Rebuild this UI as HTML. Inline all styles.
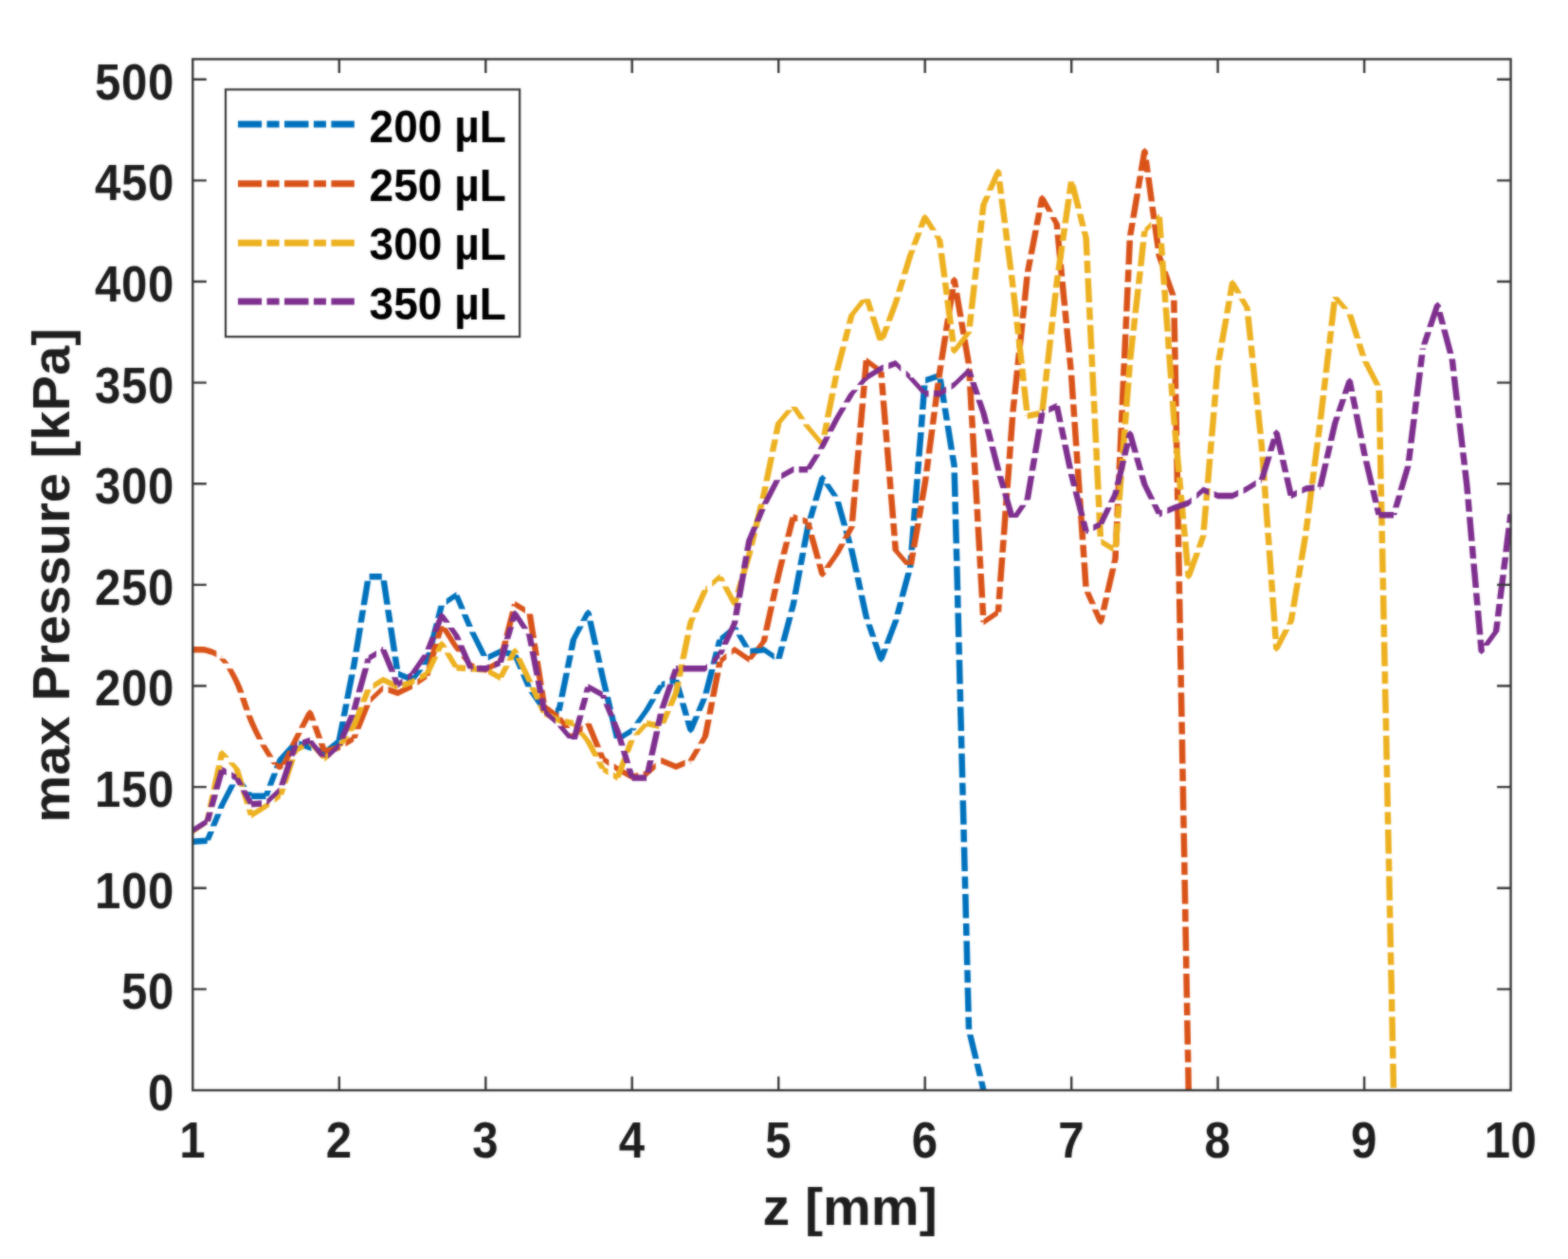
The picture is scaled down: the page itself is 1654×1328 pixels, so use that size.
<!DOCTYPE html>
<html lang="en">
<head>
<meta charset="utf-8">
<title>max Pressure [kPa] vs z [mm]</title>
<style>
html,body{margin:0;padding:0;background:#fff;}
body{width:1654px;height:1328px;overflow:hidden;}
svg{display:block;}
</style>
</head>
<body>
<svg width="1654" height="1328" viewBox="0 0 1654 1328">
<defs><clipPath id="ax"><rect x="202.3" y="61.4" width="1392.3" height="1089.6"/></clipPath></defs>
<filter id="soft" x="0" y="0" width="1654" height="1328" filterUnits="userSpaceOnUse" color-interpolation-filters="sRGB"><feGaussianBlur stdDeviation="0.85" result="b"/><feComposite in="b" in2="SourceGraphic" operator="arithmetic" k1="0" k2="0.6" k3="0.4" k4="0"/></filter>
<g filter="url(#soft)">
<rect width="1654" height="1328" fill="#fff"/>
<g clip-path="url(#ax)">
<path fill="#0072bd" d="M203.3 884.4L218.7 883.4L218.7 889.9L203.3 890.9ZM219.5 877.0L226.0 877.0L222.0 886.6L215.5 886.6ZM227.2 858.5L233.7 858.5L228.2 871.6L221.7 871.6ZM230.9 849.3L237.4 849.3L235.9 853.1L229.4 853.1ZM242.2 827.6L248.7 827.6L237.4 849.3L230.9 849.3ZM246.4 819.5L252.9 819.5L251.5 822.2L245.0 822.2ZM249.6 816.5L252.9 819.5L246.4 819.5ZM246.4 819.5L252.9 819.5L260.8 829.9L254.3 829.9ZM258.4 835.2L264.9 835.2L268.3 839.7L261.8 839.7ZM265.1 836.5L280.5 836.5L280.5 843.0L265.1 843.0ZM279.5 834.1L286.0 834.1L283.8 839.7L277.3 839.7ZM286.7 815.6L293.2 815.6L288.1 828.8L281.6 828.8ZM292.7 800.3L299.2 800.3L295.3 810.2L288.8 810.2ZM306.8 784.7L313.3 784.7L299.2 800.3L292.7 800.3ZM315.3 781.3L326.9 785.3L326.9 791.8L315.3 787.8ZM326.9 785.3L328.4 785.8L328.4 792.3L326.9 791.8ZM333.8 787.7L342.3 790.6L342.3 797.1L333.8 794.2ZM342.3 790.6L357.8 777.8L357.8 784.3L342.3 797.1ZM358.5 761.0L365.0 761.0L361.0 781.1L354.5 781.1ZM362.1 742.4L368.6 742.4L366.0 755.6L359.5 755.6ZM368.1 711.6L374.6 711.6L369.6 737.1L363.1 737.1ZM370.0 702.2L376.5 702.2L375.7 706.2L369.2 706.2ZM371.5 693.0L378.0 693.0L376.5 702.2L370.0 702.2ZM376.6 662.2L383.1 662.2L378.9 687.7L372.4 687.7ZM379.6 643.6L386.1 643.6L383.9 656.8L377.4 656.8ZM384.7 612.8L391.2 612.8L387.0 638.3L380.5 638.3ZM389.6 605.1L402.8 605.1L402.8 611.6L389.6 611.6ZM401.5 612.3L408.0 612.3L411.8 637.8L405.3 637.8ZM406.1 643.2L412.6 643.2L414.6 656.4L408.1 656.4ZM408.9 661.7L415.4 661.7L419.3 687.2L412.8 687.2ZM413.6 692.6L420.1 692.6L422.1 705.8L415.6 705.8ZM420.0 707.6L435.0 713.8L435.0 720.3L420.0 714.1ZM440.2 706.6L446.7 706.6L438.3 717.1L431.8 717.1ZM447.2 697.9L453.7 697.9L451.0 701.2L444.5 701.2ZM449.8 688.1L456.3 688.1L453.7 697.9L447.2 697.9ZM457.7 657.2L464.2 657.2L457.7 682.7L451.2 682.7ZM462.5 638.7L469.0 638.7L465.6 651.8L459.1 651.8ZM470.8 631.6L481.4 624.3L481.4 630.8L470.8 638.1ZM478.1 627.5L484.6 627.5L491.0 642.5L484.5 642.5ZM486.8 647.9L493.3 647.9L498.9 661.0L492.4 661.0ZM494.9 666.4L501.4 666.4L514.1 691.9L507.6 691.9ZM514.8 690.2L527.7 684.0L527.7 690.5L514.8 696.7ZM527.7 684.0L528.0 684.0L528.0 690.5L527.7 690.5ZM533.3 685.2L543.2 687.2L543.2 693.7L533.3 691.7ZM539.9 690.4L546.4 690.4L553.1 706.1L546.6 706.1ZM548.9 711.5L555.4 711.5L561.0 724.6L554.5 724.6ZM557.6 730.0L564.1 730.0L577.3 749.1L570.8 749.1ZM574.0 745.8L580.5 746.3L580.5 752.8L574.0 752.3ZM585.9 746.6L589.5 746.9L589.5 753.4L585.9 753.1ZM588.2 740.6L594.7 740.6L592.7 750.1L586.2 750.1ZM594.5 709.8L601.0 709.8L595.8 735.3L589.3 735.3ZM598.3 691.2L604.8 691.2L602.1 704.4L595.6 704.4ZM601.7 674.4L608.2 674.4L605.9 685.9L599.4 685.9ZM609.2 660.4L615.7 660.4L608.2 674.4L601.7 674.4ZM617.1 645.7L623.6 645.7L618.6 655.0L612.1 655.0ZM620.4 642.7L623.6 645.7L617.1 645.7ZM617.1 645.7L623.6 645.7L624.5 649.5L618.0 649.5ZM619.2 654.8L625.7 654.8L631.4 680.3L624.9 680.3ZM626.1 685.7L632.6 685.7L635.5 698.9L629.0 698.9ZM630.2 704.2L636.7 704.2L639.1 715.0L632.6 715.0ZM632.6 715.0L639.1 715.0L642.6 729.7L636.1 729.7ZM637.4 735.1L643.9 735.1L647.0 748.3L640.5 748.3ZM641.8 753.6L648.3 753.6L654.3 779.1L647.8 779.1ZM655.8 773.9L666.7 767.2L666.7 773.7L655.8 780.4ZM665.1 768.2L671.6 768.2L670.0 770.4L663.5 770.4ZM678.9 749.1L685.4 749.1L675.5 762.8L669.0 762.8ZM685.8 737.3L692.3 737.3L685.4 749.1L678.9 749.1ZM694.4 722.4L700.9 722.4L695.4 731.9L688.9 731.9ZM697.6 719.2L701.3 717.9L701.3 724.4L697.6 725.7ZM706.6 716.1L713.1 713.8L713.1 720.3L706.6 722.6ZM709.8 717.1L716.3 717.1L721.9 736.2L715.4 736.2ZM716.9 741.5L723.4 741.5L727.2 754.7L720.7 754.7ZM722.3 760.1L728.8 760.1L731.8 770.4L725.3 770.4ZM725.3 770.4L731.8 770.4L728.5 773.4ZM731.7 755.3L738.2 755.3L731.8 770.4L725.3 770.4ZM739.6 736.7L746.1 736.7L740.5 749.9L734.0 749.9ZM748.0 705.9L754.5 705.9L747.9 731.4L741.4 731.4ZM752.8 687.3L759.3 687.3L755.9 700.5L749.4 700.5ZM756.2 674.4L762.7 674.4L760.7 682.0L754.2 682.0ZM759.4 671.2L774.9 658.4L774.9 664.9L759.4 677.7ZM771.6 661.6L778.1 661.6L779.7 664.2L773.2 664.2ZM776.4 669.6L782.9 669.6L790.8 682.7L784.3 682.7ZM791.2 683.9L805.8 681.9L805.8 688.4L791.2 690.4ZM805.8 681.9L816.7 689.4L816.7 695.9L805.8 688.4ZM821.7 681.8L828.2 681.8L824.7 694.9L818.2 694.9ZM830.0 650.9L836.5 650.9L829.7 676.4L823.2 676.4ZM833.4 638.2L839.9 638.2L837.9 645.5L831.4 645.5ZM834.5 632.4L841.0 632.4L839.9 638.2L833.4 638.2ZM840.3 601.5L846.8 601.5L842.0 627.0L835.5 627.0ZM843.8 583.0L850.3 583.0L847.8 596.1L841.3 596.1ZM848.9 556.1L855.4 556.1L851.3 577.6L844.8 577.6ZM850.0 552.1L856.5 552.1L855.4 556.1L848.9 556.1ZM855.5 533.6L862.0 533.6L858.1 546.7L851.6 546.7ZM864.3 503.8L870.8 503.8L863.6 528.2L857.1 528.2ZM867.6 500.8L870.8 503.8L864.3 503.8ZM864.3 503.8L870.8 503.8L871.6 505.0L865.1 505.0ZM868.8 510.3L875.3 510.3L884.4 523.5L877.9 523.5ZM880.5 528.9L887.0 528.9L894.2 554.4L887.7 554.4ZM889.3 559.7L895.8 559.7L899.5 572.9L893.0 572.9ZM894.5 578.3L901.0 578.3L901.7 580.6L895.2 580.6ZM895.2 580.6L901.7 580.6L906.8 603.8L900.3 603.8ZM901.5 609.1L908.0 609.1L910.8 622.3L904.3 622.3ZM905.5 627.7L912.0 627.7L917.1 651.0L910.6 651.0ZM910.6 651.0L917.1 651.0L917.9 653.2L911.4 653.2ZM913.3 658.5L919.8 658.5L924.3 671.7L917.8 671.7ZM919.6 677.1L926.1 677.1L932.6 695.8L926.1 695.8ZM926.1 695.8L932.6 695.8L929.3 698.8ZM930.5 684.3L937.0 684.3L932.6 695.8L926.1 695.8ZM941.5 655.2L948.0 655.2L939.0 679.0L932.5 679.0ZM942.0 653.5L948.5 653.5L948.0 655.2L941.5 655.2ZM947.0 634.9L953.5 634.9L950.0 648.1L943.5 648.1ZM955.3 604.1L961.8 604.1L954.9 629.6L948.4 629.6ZM957.0 597.7L963.5 597.7L963.2 598.7L956.7 598.7ZM957.9 585.5L964.4 585.5L963.5 597.7L957.0 597.7ZM960.4 554.7L966.9 554.7L964.9 580.2L958.4 580.2ZM961.8 536.1L968.3 536.1L967.3 549.3L960.8 549.3ZM964.3 505.3L970.8 505.3L968.8 530.8L962.3 530.8ZM965.7 486.7L972.2 486.7L971.2 499.9L964.7 499.9ZM968.2 455.9L974.7 455.9L972.6 481.4L966.1 481.4ZM969.6 437.3L976.1 437.3L975.1 450.5L968.6 450.5ZM972.0 406.5L978.5 406.5L976.5 432.0L970.0 432.0ZM976.1 398.1L989.2 393.6L989.2 400.1L976.1 404.6ZM988.5 399.6L995.0 399.6L999.1 425.1L992.6 425.1ZM993.5 430.5L1000.0 430.5L1002.1 443.6L995.6 443.6ZM996.5 449.0L1003.0 449.0L1007.1 474.5L1000.6 474.5ZM1001.5 479.9L1008.0 479.9L1009.8 491.0L1003.3 491.0ZM1003.3 491.0L1009.8 491.0L1009.9 493.0L1003.4 493.0ZM1003.5 498.4L1010.0 498.4L1010.7 523.9L1004.2 523.9ZM1004.3 529.3L1010.8 529.3L1011.2 542.4L1004.7 542.4ZM1004.8 547.8L1011.3 547.8L1012.0 573.3L1005.5 573.3ZM1005.6 578.7L1012.1 578.7L1012.5 591.8L1006.0 591.8ZM1006.1 597.2L1012.6 597.2L1013.3 622.7L1006.8 622.7ZM1006.9 628.1L1013.4 628.1L1013.7 641.2L1007.2 641.2ZM1007.4 646.6L1013.9 646.6L1014.5 672.1L1008.0 672.1ZM1008.2 677.5L1014.7 677.5L1015.0 690.6L1008.5 690.6ZM1008.7 696.0L1015.2 696.0L1015.8 721.5L1009.3 721.5ZM1009.5 726.9L1016.0 726.9L1016.3 740.0L1009.8 740.0ZM1009.9 745.4L1016.4 745.4L1017.1 770.9L1010.6 770.9ZM1010.7 776.3L1017.2 776.3L1017.6 789.4L1011.1 789.4ZM1011.2 794.8L1017.7 794.8L1018.4 820.3L1011.9 820.3ZM1012.0 825.7L1018.5 825.7L1018.9 838.8L1012.4 838.8ZM1012.5 844.2L1019.0 844.2L1019.7 869.7L1013.2 869.7ZM1013.3 875.1L1019.8 875.1L1020.1 888.2L1013.6 888.2ZM1013.8 893.6L1020.3 893.6L1020.9 919.1L1014.4 919.1ZM1014.6 924.5L1021.1 924.5L1021.4 937.6L1014.9 937.6ZM1015.1 943.0L1021.6 943.0L1022.2 968.5L1015.7 968.5ZM1015.9 973.9L1022.4 973.9L1022.7 987.0L1016.2 987.0ZM1016.4 992.4L1022.9 992.4L1023.5 1017.9L1017.0 1017.9ZM1017.2 1023.3L1023.7 1023.3L1024.0 1036.4L1017.5 1036.4ZM1017.6 1041.8L1024.1 1041.8L1024.8 1067.3L1018.3 1067.3ZM1018.4 1072.7L1024.9 1072.7L1025.3 1085.8L1018.8 1085.8ZM1020.0 1091.2L1026.5 1091.2L1032.7 1116.7L1026.2 1116.7ZM1027.5 1122.1L1034.0 1122.1L1037.2 1135.2L1030.7 1135.2ZM1032.0 1140.6L1038.5 1140.6L1040.7 1150.0L1034.2 1150.0Z"/>
<path fill="#d95319" d="M203.3 681.9L205.9 681.9L205.9 688.4L203.3 688.4ZM205.9 681.9L208.4 681.9L208.4 688.4L205.9 688.4ZM208.4 681.9L211.0 681.9L211.0 688.4L208.4 688.4ZM211.0 681.9L213.6 682.0L213.6 688.5L211.0 688.4ZM213.6 682.0L216.2 682.3L216.2 688.8L213.6 688.5ZM216.2 682.3L218.7 682.9L218.7 689.4L216.2 688.8ZM218.7 682.9L221.3 683.7L221.3 690.2L218.7 689.4ZM221.3 683.7L223.9 684.6L223.9 691.1L221.3 690.2ZM223.9 684.6L226.5 685.7L226.5 692.2L223.9 691.1ZM226.5 685.7L228.4 686.8L228.4 693.3L226.5 692.2ZM233.8 691.1L234.2 691.5L234.2 698.0L233.8 697.6ZM230.9 694.7L237.4 694.7L240.0 697.7L233.5 697.7ZM233.5 697.7L240.0 697.7L241.7 699.8L235.2 699.8ZM238.9 705.2L245.4 705.2L247.7 709.2L241.2 709.2ZM241.2 709.2L247.7 709.2L250.3 714.0L243.8 714.0ZM243.8 714.0L250.3 714.0L252.9 719.2L246.4 719.2ZM246.4 719.2L252.9 719.2L255.5 725.3L249.0 725.3ZM249.0 725.3L255.5 725.3L257.5 730.7L251.0 730.7ZM252.9 736.1L259.4 736.1L260.6 739.7L254.1 739.7ZM254.1 739.7L260.6 739.7L263.2 747.2L256.7 747.2ZM256.7 747.2L263.2 747.2L263.9 749.2L257.4 749.2ZM259.4 754.6L265.9 754.6L268.3 760.8L261.8 760.8ZM261.8 760.8L268.3 760.8L270.9 766.6L264.4 766.6ZM264.4 766.6L270.9 766.6L273.5 772.1L267.0 772.1ZM267.0 772.1L273.5 772.1L276.1 777.2L269.6 777.2ZM269.6 777.2L276.1 777.2L277.6 780.1L271.1 780.1ZM274.1 785.5L280.6 785.5L281.2 786.5L274.7 786.5ZM274.7 786.5L281.2 786.5L283.8 790.7L277.3 790.7ZM277.3 790.7L283.8 790.7L286.4 794.9L279.9 794.9ZM279.9 794.9L286.4 794.9L288.6 798.6L282.1 798.6ZM285.5 804.0L292.0 804.0L294.1 806.6L287.6 806.6ZM290.8 803.3L293.4 805.3L293.4 811.8L290.8 809.8ZM293.4 805.3L296.0 805.5L296.0 812.0L293.4 811.8ZM296.0 805.5L298.6 803.6L298.6 810.1L296.0 812.0ZM297.9 803.0L304.4 803.0L301.8 806.8L295.3 806.8ZM300.5 797.9L307.0 797.9L304.4 803.0L297.9 803.0ZM303.0 792.2L309.5 792.2L307.0 797.9L300.5 797.9ZM303.3 791.7L309.8 791.7L309.5 792.2L303.0 792.2ZM308.2 781.1L314.7 781.1L312.1 786.3L305.6 786.3ZM312.3 773.1L318.8 773.1L314.7 781.1L308.2 781.1ZM323.6 751.2L330.1 751.2L321.6 767.8L315.1 767.8ZM326.9 748.2L330.1 751.2L323.6 751.2ZM323.6 751.2L330.1 751.2L333.5 760.2L327.0 760.2ZM329.0 765.5L335.5 765.5L340.3 778.7L333.8 778.7ZM335.8 784.1L342.3 784.1L345.6 792.8L339.1 792.8ZM342.3 789.5L357.8 785.3L357.8 791.8L342.3 796.0ZM357.8 785.3L359.1 784.5L359.1 791.0L357.8 791.8ZM364.5 781.1L373.2 775.7L373.2 782.2L364.5 787.6ZM371.7 774.5L378.2 774.5L376.5 778.9L370.0 778.9ZM384.2 743.7L390.7 743.7L380.4 769.2L373.9 769.2ZM390.9 735.1L404.1 722.4L404.1 728.9L390.9 741.6ZM409.5 724.2L419.6 727.7L419.6 734.2L409.5 730.7ZM419.6 727.7L435.0 720.3L435.0 726.8L419.6 734.2ZM440.3 716.6L450.5 709.6L450.5 716.1L440.3 723.1ZM448.1 709.8L454.6 709.8L453.7 712.8L447.2 712.8ZM456.8 678.9L463.3 678.9L456.1 704.4L449.6 704.4ZM462.1 660.4L468.6 660.4L464.9 673.5L458.4 673.5ZM464.8 661.9L471.3 661.9L484.6 683.0L478.1 683.0ZM478.1 683.0L484.6 683.0L488.2 687.4L481.7 687.4ZM486.0 692.7L492.5 692.7L500.1 702.2L493.6 702.2ZM496.8 698.9L500.5 699.9L500.5 706.4L496.8 705.4ZM505.9 701.4L512.3 703.2L512.3 709.7L505.9 707.9ZM512.3 703.2L527.7 694.6L527.7 701.1L512.3 709.7ZM525.4 694.2L531.9 694.2L531.0 697.9L524.5 697.9ZM530.1 675.7L536.6 675.7L533.3 688.8L526.8 688.8ZM538.0 644.8L544.5 644.8L538.0 670.3L531.5 670.3ZM539.9 637.1L546.4 637.1L545.8 639.4L539.3 639.4ZM543.2 633.9L554.0 640.6L554.0 647.1L543.2 640.4ZM555.5 647.5L562.0 647.5L566.0 673.0L559.5 673.0ZM560.3 678.4L566.8 678.4L568.9 691.5L562.4 691.5ZM563.3 696.9L569.8 696.9L573.8 722.4L567.3 722.4ZM568.1 727.8L574.6 727.8L576.7 740.9L570.2 740.9ZM575.5 742.7L589.5 753.3L589.5 759.8L575.5 749.2ZM586.2 756.5L592.7 756.5L601.5 768.1L595.0 768.1ZM599.1 773.5L605.6 773.5L608.2 776.8L601.7 776.8ZM604.9 773.6L614.7 764.8L614.7 771.3L604.9 780.1ZM620.1 759.9L620.4 759.7L620.4 766.2L620.1 766.4ZM617.1 762.9L623.6 762.9L634.1 788.2L627.6 788.2ZM629.8 793.5L636.3 793.5L639.1 800.3L632.6 800.3ZM635.8 797.0L642.3 801.5L642.3 808.0L635.8 803.5ZM647.7 805.2L651.3 807.7L651.3 814.2L647.7 811.7ZM651.3 807.7L666.7 816.2L666.7 822.7L651.3 814.2ZM666.7 816.2L673.2 814.9L673.2 821.4L666.7 822.7ZM678.5 813.8L682.2 813.0L682.2 819.5L678.5 820.3ZM682.2 813.0L691.7 804.5L691.7 811.0L682.2 819.5ZM697.1 799.7L697.6 799.1L697.6 805.6L697.1 806.2ZM697.6 799.1L713.1 805.5L713.1 812.0L697.6 805.6ZM713.1 805.5L722.6 801.6L722.6 808.1L713.1 812.0ZM727.9 799.4L728.5 799.1L728.5 805.6L727.9 805.9ZM732.9 789.8L739.4 789.8L731.8 802.4L725.3 802.4ZM740.7 776.8L747.2 776.8L742.6 784.5L736.1 784.5ZM744.2 759.0L750.7 759.0L747.2 776.8L740.7 776.8ZM747.8 740.4L754.3 740.4L751.8 753.6L745.3 753.6ZM753.9 709.6L760.4 709.6L755.4 735.1L748.9 735.1ZM756.2 697.9L762.7 697.9L761.4 704.2L754.9 704.2ZM759.4 694.6L766.3 689.0L766.3 695.5L759.4 701.1ZM771.7 684.5L774.9 681.9L774.9 688.4L771.7 691.0ZM774.9 681.9L790.3 692.5L790.3 699.0L774.9 688.4ZM792.6 688.9L799.1 688.9L793.6 695.8L787.1 695.8ZM802.5 676.6L809.0 676.6L803.4 683.6L796.9 683.6ZM803.9 670.4L810.4 670.4L809.0 676.6L802.5 676.6ZM810.6 639.5L817.1 639.5L811.5 665.0L805.0 665.0ZM814.7 621.0L821.2 621.0L818.3 634.2L811.8 634.2ZM818.0 606.2L824.5 606.2L822.4 615.6L815.9 615.6ZM822.0 590.1L828.5 590.1L824.5 606.2L818.0 606.2ZM826.8 571.6L833.3 571.6L829.9 584.8L823.4 584.8ZM833.4 545.4L839.9 545.4L834.6 566.2L828.1 566.2ZM836.7 542.2L841.3 543.8L841.3 550.3L836.7 548.7ZM846.7 545.6L852.1 547.5L852.1 554.0L846.7 552.1ZM848.9 550.8L855.4 550.8L857.5 558.5L851.0 558.5ZM852.5 563.9L859.0 563.9L866.1 589.4L859.6 589.4ZM861.1 594.8L867.6 594.8L870.8 606.2L864.3 606.2ZM864.3 606.2L870.8 606.2L867.6 609.2ZM865.5 604.5L872.0 604.5L870.8 606.2L864.3 606.2ZM879.8 583.8L886.3 583.8L875.7 599.1L869.2 599.1ZM885.4 573.6L891.9 573.6L886.3 583.8L879.8 583.8ZM895.2 556.1L901.7 556.1L894.9 568.2L888.4 568.2ZM895.3 555.1L901.8 555.1L901.7 556.1L895.2 556.1ZM898.0 524.2L904.5 524.2L902.3 549.7L895.8 549.7ZM899.6 505.7L906.1 505.7L905.0 518.8L898.5 518.8ZM902.3 474.8L908.8 474.8L906.6 500.3L900.1 500.3ZM904.0 456.3L910.5 456.3L909.3 469.4L902.8 469.4ZM906.7 425.4L913.2 425.4L910.9 450.9L904.4 450.9ZM908.3 406.9L914.8 406.9L913.6 420.0L907.1 420.0ZM910.6 380.1L917.1 380.1L915.3 401.5L908.8 401.5ZM913.9 376.9L929.3 388.6L929.3 395.1L913.9 383.4ZM926.1 391.9L932.6 391.9L933.1 398.5L926.6 398.5ZM927.1 403.9L933.6 403.9L934.7 417.1L928.2 417.1ZM928.6 422.4L935.1 422.4L937.2 447.9L930.7 447.9ZM931.1 453.3L937.6 453.3L938.7 466.5L932.2 466.5ZM932.6 471.8L939.1 471.8L941.2 497.3L934.7 497.3ZM935.2 502.7L941.7 502.7L942.7 515.9L936.2 515.9ZM936.7 521.2L943.2 521.2L945.3 546.7L938.8 546.7ZM939.2 552.1L945.7 552.1L946.8 565.3L940.3 565.3ZM940.7 570.6L947.2 570.6L948.0 580.6L941.5 580.6ZM941.5 580.6L948.0 580.6L961.3 596.1L954.8 596.1ZM959.8 582.8L966.3 582.8L964.0 596.0L957.5 596.0ZM965.2 551.9L971.7 551.9L967.2 577.4L960.7 577.4ZM968.4 533.4L974.9 533.4L972.6 546.6L966.1 546.6ZM972.4 510.2L978.9 510.2L975.8 528.0L969.3 528.0ZM973.5 502.5L980.0 502.5L978.9 510.2L972.4 510.2ZM975.9 484.0L982.4 484.0L980.7 497.2L974.2 497.2ZM980.0 453.1L986.5 453.1L983.1 478.6L976.6 478.6ZM982.4 434.6L988.9 434.6L987.2 447.8L980.7 447.8ZM986.5 403.7L993.0 403.7L989.6 429.2L983.1 429.2ZM987.9 392.9L994.4 392.9L993.7 398.4L987.2 398.4ZM989.1 385.2L995.6 385.2L994.4 392.9L987.9 392.9ZM994.0 354.3L1000.5 354.3L996.5 379.8L990.0 379.8ZM996.9 335.8L1003.4 335.8L1001.3 349.0L994.8 349.0ZM1001.7 304.9L1008.2 304.9L1004.2 330.4L997.7 330.4ZM1003.3 294.8L1009.8 294.8L1009.1 299.6L1002.6 299.6ZM1006.6 291.8L1009.8 294.8L1003.3 294.8ZM1003.3 294.8L1009.8 294.8L1011.3 303.3L1004.8 303.3ZM1005.7 308.7L1012.2 308.7L1016.6 334.2L1010.1 334.2ZM1011.0 339.5L1017.5 339.5L1019.8 352.7L1013.3 352.7ZM1014.2 358.1L1020.7 358.1L1025.1 383.6L1018.6 383.6ZM1019.0 388.9L1025.5 388.9L1026.3 402.1L1019.8 402.1ZM1020.1 407.5L1026.6 407.5L1028.0 433.0L1021.5 433.0ZM1021.8 438.3L1028.3 438.3L1029.1 451.5L1022.6 451.5ZM1022.9 456.9L1029.4 456.9L1030.8 482.4L1024.3 482.4ZM1024.7 487.7L1031.2 487.7L1031.9 500.9L1025.4 500.9ZM1025.7 506.3L1032.2 506.3L1033.7 531.8L1027.2 531.8ZM1027.5 537.1L1034.0 537.1L1034.7 550.3L1028.2 550.3ZM1028.5 555.7L1035.0 555.7L1036.5 581.2L1030.0 581.2ZM1030.3 586.5L1036.8 586.5L1037.5 599.7L1031.0 599.7ZM1031.3 605.1L1037.8 605.1L1039.3 630.6L1032.8 630.6ZM1033.1 635.9L1039.6 635.9L1040.3 649.1L1033.8 649.1ZM1034.1 654.5L1040.6 654.5L1040.7 656.3L1034.2 656.3ZM1037.5 653.1L1052.9 642.4L1052.9 648.9L1037.5 659.6ZM1050.3 637.5L1056.8 637.5L1056.2 645.7L1049.7 645.7ZM1051.6 618.9L1058.1 618.9L1057.2 632.1L1050.7 632.1ZM1053.9 588.1L1060.4 588.1L1058.5 613.6L1052.0 613.6ZM1055.3 569.5L1061.8 569.5L1060.8 582.7L1054.3 582.7ZM1057.5 538.7L1064.0 538.7L1062.2 564.2L1055.7 564.2ZM1058.9 520.1L1065.4 520.1L1064.4 533.3L1057.9 533.3ZM1061.2 489.3L1067.7 489.3L1065.8 514.8L1059.3 514.8ZM1062.5 470.7L1069.0 470.7L1068.1 483.9L1061.6 483.9ZM1064.8 439.9L1071.3 439.9L1069.4 465.4L1062.9 465.4ZM1066.6 421.3L1073.1 421.3L1071.7 434.5L1065.2 434.5ZM1069.9 390.5L1076.4 390.5L1073.7 416.0L1067.2 416.0ZM1071.8 371.9L1078.3 371.9L1076.9 385.1L1070.4 385.1ZM1075.1 341.1L1081.6 341.1L1078.9 366.6L1072.4 366.6ZM1077.0 322.5L1083.5 322.5L1082.1 335.7L1075.6 335.7ZM1080.2 291.7L1086.7 291.7L1084.1 317.2L1077.6 317.2ZM1083.4 273.6L1089.9 273.6L1087.4 286.8L1080.9 286.8ZM1089.4 242.8L1095.9 242.8L1091.0 268.3L1084.5 268.3ZM1093.0 224.2L1099.5 224.2L1096.9 237.4L1090.4 237.4ZM1096.0 208.5L1102.5 208.5L1100.5 218.9L1094.0 218.9ZM1099.3 205.5L1102.5 208.5L1096.0 208.5ZM1096.0 208.5L1102.5 208.5L1111.0 223.6L1104.5 223.6ZM1107.4 229.0L1113.9 229.0L1118.0 236.2L1111.5 236.2ZM1111.5 236.2L1118.0 236.2L1118.5 242.1L1112.0 242.1ZM1112.6 247.5L1119.1 247.5L1121.5 273.0L1115.0 273.0ZM1115.5 278.4L1122.0 278.4L1123.3 291.5L1116.8 291.5ZM1117.3 296.9L1123.8 296.9L1126.3 322.4L1119.8 322.4ZM1120.3 327.8L1126.8 327.8L1128.1 340.9L1121.6 340.9ZM1122.1 346.3L1128.6 346.3L1131.1 371.8L1124.6 371.8ZM1125.1 377.2L1131.6 377.2L1132.9 390.3L1126.4 390.3ZM1126.9 395.7L1133.4 395.7L1133.4 396.1L1126.9 396.1ZM1126.9 396.1L1133.4 396.1L1135.1 421.2L1128.6 421.2ZM1129.0 426.6L1135.5 426.6L1136.4 439.7L1129.9 439.7ZM1130.3 445.1L1136.8 445.1L1138.5 470.6L1132.0 470.6ZM1132.4 476.0L1138.9 476.0L1139.8 489.1L1133.3 489.1ZM1133.7 494.5L1140.2 494.5L1141.9 520.0L1135.4 520.0ZM1135.8 525.4L1142.3 525.4L1143.2 538.5L1136.7 538.5ZM1137.1 543.9L1143.6 543.9L1145.3 569.4L1138.8 569.4ZM1139.2 574.8L1145.7 574.8L1146.6 587.9L1140.1 587.9ZM1140.5 593.3L1147.0 593.3L1148.7 618.8L1142.2 618.8ZM1143.7 624.2L1150.2 624.2L1156.0 637.3L1149.5 637.3ZM1151.8 642.7L1158.3 642.7L1164.3 656.3L1157.8 656.3ZM1157.8 656.3L1164.3 656.3L1161.1 659.3ZM1159.5 648.8L1166.0 648.8L1164.3 656.3L1157.8 656.3ZM1163.8 630.2L1170.3 630.2L1167.3 643.4L1160.8 643.4ZM1170.9 599.4L1177.4 599.4L1171.5 624.9L1165.0 624.9ZM1173.3 589.1L1179.8 589.1L1178.6 594.0L1172.1 594.0ZM1173.6 580.8L1180.1 580.8L1179.8 589.1L1173.3 589.1ZM1175.0 550.0L1181.5 550.0L1180.4 575.5L1173.9 575.5ZM1175.9 531.4L1182.4 531.4L1181.8 544.6L1175.3 544.6ZM1177.3 500.6L1183.8 500.6L1182.6 526.1L1176.1 526.1ZM1178.1 482.0L1184.6 482.0L1184.0 495.2L1177.5 495.2ZM1179.5 451.2L1186.0 451.2L1184.9 476.7L1178.4 476.7ZM1180.4 432.6L1186.9 432.6L1186.3 445.8L1179.8 445.8ZM1181.8 401.8L1188.3 401.8L1187.1 427.3L1180.6 427.3ZM1182.6 383.2L1189.1 383.2L1188.5 396.4L1182.0 396.4ZM1184.0 352.4L1190.5 352.4L1189.4 377.9L1182.9 377.9ZM1184.9 333.8L1191.4 333.8L1190.8 347.0L1184.3 347.0ZM1186.3 303.0L1192.8 303.0L1191.6 328.5L1185.1 328.5ZM1187.1 284.4L1193.6 284.4L1193.0 297.6L1186.5 297.6ZM1188.5 253.6L1195.0 253.6L1193.9 279.1L1187.4 279.1ZM1191.3 235.0L1197.8 235.0L1195.5 248.2L1189.0 248.2ZM1196.5 204.2L1203.0 204.2L1198.7 229.7L1192.2 229.7ZM1199.6 185.6L1206.1 185.6L1203.9 198.8L1197.4 198.8ZM1204.2 159.0L1210.7 159.0L1207.0 180.3L1200.5 180.3ZM1207.4 156.0L1210.7 159.0L1204.2 159.0ZM1204.2 159.0L1210.7 159.0L1211.2 163.2L1204.7 163.2ZM1205.5 168.6L1212.0 168.6L1213.8 181.8L1207.3 181.8ZM1208.1 187.1L1214.6 187.1L1218.1 212.6L1211.6 212.6ZM1212.3 218.0L1218.8 218.0L1220.7 231.2L1214.2 231.2ZM1214.9 236.5L1221.4 236.5L1225.0 262.0L1218.5 262.0ZM1219.2 267.4L1225.7 267.4L1226.1 270.3L1219.6 270.3ZM1219.6 270.3L1226.1 270.3L1229.7 280.6L1223.2 280.6ZM1225.1 285.9L1231.6 285.9L1240.6 311.4L1234.1 311.4ZM1235.1 316.8L1241.6 316.8L1241.8 330.0L1235.3 330.0ZM1235.4 335.3L1241.9 335.3L1242.4 360.8L1235.9 360.8ZM1236.0 366.2L1242.5 366.2L1242.8 379.4L1236.3 379.4ZM1236.4 384.7L1242.9 384.7L1243.3 410.2L1236.8 410.2ZM1236.9 415.6L1243.4 415.6L1243.7 428.8L1237.2 428.8ZM1237.3 434.1L1243.8 434.1L1244.2 459.6L1237.7 459.6ZM1237.8 465.0L1244.3 465.0L1244.6 478.2L1238.1 478.2ZM1238.2 483.5L1244.7 483.5L1245.2 509.0L1238.7 509.0ZM1238.8 514.4L1245.3 514.4L1245.5 527.6L1239.0 527.6ZM1239.1 532.9L1245.6 532.9L1246.1 558.4L1239.6 558.4ZM1239.7 563.8L1246.2 563.8L1246.4 577.0L1239.9 577.0ZM1240.0 582.3L1246.5 582.3L1247.0 607.8L1240.5 607.8ZM1240.6 613.2L1247.1 613.2L1247.3 626.4L1240.8 626.4ZM1240.9 631.7L1247.4 631.7L1247.9 657.2L1241.4 657.2ZM1241.5 662.6L1248.0 662.6L1248.2 675.8L1241.7 675.8ZM1241.8 681.1L1248.3 681.1L1248.8 706.6L1242.3 706.6ZM1242.4 712.0L1248.9 712.0L1249.1 725.2L1242.6 725.2ZM1242.7 730.5L1249.2 730.5L1249.7 756.0L1243.2 756.0ZM1243.3 761.4L1249.8 761.4L1250.1 774.6L1243.6 774.6ZM1243.7 779.9L1250.2 779.9L1250.6 805.4L1244.1 805.4ZM1244.2 810.8L1250.7 810.8L1251.0 824.0L1244.5 824.0ZM1244.6 829.3L1251.1 829.3L1251.5 854.8L1245.0 854.8ZM1245.1 860.2L1251.6 860.2L1251.9 873.4L1245.4 873.4ZM1245.5 878.7L1252.0 878.7L1252.5 904.2L1246.0 904.2ZM1246.1 909.6L1252.6 909.6L1252.8 922.8L1246.3 922.8ZM1246.4 928.1L1252.9 928.1L1253.4 953.6L1246.9 953.6ZM1247.0 959.0L1253.5 959.0L1253.7 972.2L1247.2 972.2ZM1247.3 977.5L1253.8 977.5L1254.3 1003.0L1247.8 1003.0ZM1247.9 1008.4L1254.4 1008.4L1254.6 1021.6L1248.1 1021.6ZM1248.2 1026.9L1254.7 1026.9L1255.2 1052.4L1248.7 1052.4ZM1248.8 1057.8L1255.3 1057.8L1255.5 1071.0L1249.0 1071.0ZM1249.1 1076.3L1255.6 1076.3L1256.1 1101.8L1249.6 1101.8ZM1249.7 1107.2L1256.2 1107.2L1256.5 1120.4L1250.0 1120.4ZM1250.1 1125.7L1256.6 1125.7L1257.0 1150.0L1250.5 1150.0Z"/>
<path fill="#edb120" d="M203.3 873.8L218.7 863.1L218.7 869.6L203.3 880.3ZM217.6 856.7L224.1 856.7L222.0 866.4L215.5 866.4ZM221.5 838.2L228.0 838.2L225.2 851.3L218.7 851.3ZM228.1 807.3L234.6 807.3L229.1 832.8L222.6 832.8ZM230.9 793.9L237.4 793.9L235.7 801.9L229.2 801.9ZM234.2 790.9L237.4 793.9L230.9 793.9ZM230.9 793.9L237.4 793.9L242.0 798.9L235.5 798.9ZM240.4 804.3L246.9 804.3L252.9 810.9L246.4 810.9ZM246.4 810.9L252.9 810.9L258.8 829.8L252.3 829.8ZM254.0 835.2L260.5 835.2L264.7 848.3L258.2 848.3ZM259.9 853.7L266.4 853.7L268.3 860.0L261.8 860.0ZM265.1 856.7L280.5 847.1L280.5 853.6L265.1 863.2ZM280.5 847.1L284.3 844.3L284.3 850.8L280.5 853.6ZM289.7 840.2L296.0 835.4L296.0 841.9L289.7 846.7ZM295.0 831.8L301.5 831.8L299.2 838.6L292.7 838.6ZM305.2 800.9L311.7 800.9L303.3 826.4L296.8 826.4ZM308.2 791.7L314.7 791.7L313.4 795.5L306.9 795.5ZM311.4 788.5L320.8 783.3L320.8 789.8L311.4 795.0ZM326.2 780.4L326.9 780.0L326.9 786.5L326.2 786.9ZM323.6 783.2L330.1 783.2L345.6 800.3L339.1 800.3ZM342.3 797.0L350.0 790.6L350.0 797.1L342.3 803.5ZM355.4 786.2L357.8 784.2L357.8 790.7L355.4 792.7ZM362.3 776.7L368.8 776.7L361.0 787.5L354.5 787.5ZM370.0 766.1L376.5 766.1L372.7 771.3L366.2 771.3ZM377.9 745.8L384.4 745.8L376.5 766.1L370.0 766.1ZM385.2 727.3L391.7 727.3L386.5 740.4L380.0 740.4ZM393.5 720.5L404.1 713.8L404.1 720.3L393.5 727.0ZM404.1 713.8L419.0 721.0L419.0 727.5L404.1 720.3ZM424.3 719.7L435.0 716.0L435.0 722.5L424.3 726.2ZM435.0 716.0L437.5 714.6L437.5 721.1L435.0 722.5ZM442.9 711.6L450.5 707.4L450.5 713.9L442.9 718.1ZM455.9 692.8L462.4 692.8L453.7 710.7L447.2 710.7ZM462.7 678.7L469.2 678.7L465.0 687.4L458.5 687.4ZM465.9 675.7L469.2 678.7L462.7 678.7ZM462.7 678.7L469.2 678.7L471.8 683.1L465.3 683.1ZM468.6 688.5L475.1 688.5L484.6 704.3L478.1 704.3ZM481.4 701.0L491.1 701.7L491.1 708.2L481.4 707.5ZM496.5 702.1L496.8 702.1L496.8 708.6L496.5 708.6ZM496.8 702.1L509.6 703.0L509.6 709.5L496.8 708.6ZM515.0 704.7L527.7 711.7L527.7 718.2L515.0 711.2ZM531.3 702.2L537.8 702.2L531.0 715.0L524.5 715.0ZM539.9 686.2L546.4 686.2L540.7 696.8L534.2 696.8ZM543.2 683.2L546.4 686.2L539.9 686.2ZM539.9 686.2L546.4 686.2L547.6 688.7L541.1 688.7ZM543.7 694.1L550.2 694.1L561.8 718.2L555.3 718.2ZM555.3 718.2L561.8 718.2L562.5 719.6L556.0 719.6ZM558.4 724.9L564.9 724.9L570.9 738.1L564.4 738.1ZM566.8 743.5L573.3 743.5L577.3 752.3L570.8 752.3ZM574.0 749.0L589.5 756.5L589.5 763.0L574.0 755.5ZM589.5 756.5L590.7 756.7L590.7 763.2L589.5 763.0ZM596.1 757.9L604.9 759.7L604.9 766.2L596.1 764.4ZM601.7 762.9L608.2 762.9L611.7 767.3L605.2 767.3ZM609.5 772.6L616.0 772.6L623.6 782.1L617.1 782.1ZM617.1 782.1L623.6 782.1L632.2 798.1L625.7 798.1ZM628.6 803.5L635.1 803.5L639.1 810.9L632.6 810.9ZM635.8 807.7L641.6 811.2L641.6 817.7L635.8 814.2ZM646.9 814.6L651.3 817.3L651.3 823.8L646.9 821.1ZM656.1 799.4L662.6 799.4L654.5 820.5L648.0 820.5ZM663.2 780.8L669.7 780.8L664.6 794.0L658.1 794.0ZM678.9 762.9L685.4 762.9L674.1 775.5L667.6 775.5ZM682.2 759.7L695.2 762.4L695.2 768.9L682.2 766.2ZM701.4 750.1L707.9 750.1L702.2 763.2L695.7 763.2ZM709.8 731.0L716.3 731.0L710.3 744.7L703.8 744.7ZM712.3 719.2L718.8 719.2L716.3 731.0L709.8 731.0ZM716.1 700.7L722.6 700.7L719.9 713.8L713.4 713.8ZM722.5 669.8L729.0 669.8L723.7 695.3L717.2 695.3ZM725.3 656.3L731.8 656.3L730.1 664.4L723.6 664.4ZM727.5 651.3L734.0 651.3L731.8 656.3L725.3 656.3ZM740.7 622.2L747.2 622.2L736.5 645.9L730.0 645.9ZM744.0 618.9L745.8 617.3L745.8 623.8L744.0 625.4ZM751.1 612.5L759.4 605.1L759.4 611.6L751.1 619.0ZM756.2 608.3L762.7 608.3L765.3 613.2L758.8 613.2ZM761.7 618.6L768.2 618.6L778.1 637.1L771.6 637.1ZM771.6 637.1L778.1 637.1L774.9 640.1ZM773.7 630.2L780.2 630.2L778.1 637.1L771.6 637.1ZM779.1 611.7L785.6 611.7L781.8 624.8L775.3 624.8ZM787.1 584.9L793.6 584.9L787.2 606.3L780.7 606.3ZM788.1 580.8L794.6 580.8L793.6 584.9L787.1 584.9ZM792.5 562.3L799.0 562.3L795.9 575.4L789.4 575.4ZM800.0 531.4L806.5 531.4L800.3 556.9L793.8 556.9ZM802.5 520.9L809.0 520.9L807.8 526.0L801.3 526.0ZM804.2 512.9L810.7 512.9L809.0 520.9L802.5 520.9ZM810.6 482.0L817.1 482.0L811.8 507.5L805.3 507.5ZM814.4 463.5L820.9 463.5L818.2 476.6L811.7 476.6ZM818.0 446.3L824.5 446.3L822.0 458.1L815.5 458.1ZM829.6 432.6L836.1 432.6L824.5 446.3L818.0 446.3ZM834.0 429.1L840.5 429.1L849.6 442.2L843.1 442.2ZM846.8 447.6L853.3 447.6L855.4 450.5L848.9 450.5ZM848.9 450.5L855.4 450.5L870.8 468.7L864.3 468.7ZM864.3 468.7L870.8 468.7L867.6 471.7ZM865.2 464.2L871.7 464.2L870.8 468.7L864.3 468.7ZM868.9 445.7L875.4 445.7L872.8 458.8L866.3 458.8ZM875.0 414.8L881.5 414.8L876.4 440.3L869.9 440.3ZM878.7 396.3L885.2 396.3L882.6 409.4L876.1 409.4ZM879.8 390.8L886.3 390.8L886.2 390.9L879.7 390.9ZM886.4 365.4L892.9 365.4L886.3 390.8L879.8 390.8ZM891.3 346.9L897.8 346.9L894.4 360.0L887.9 360.0ZM895.2 332.2L901.7 332.2L899.2 341.5L892.7 341.5ZM908.2 316.0L914.7 316.0L901.7 332.2L895.2 332.2ZM911.4 315.3L917.9 315.3L922.1 328.5L915.6 328.5ZM917.4 333.8L923.9 333.8L932.1 359.3L925.6 359.3ZM932.4 344.1L938.9 344.1L934.0 357.2L927.5 357.2ZM941.5 319.4L948.0 319.4L940.9 338.7L934.4 338.7ZM943.5 313.2L950.0 313.2L948.0 319.4L941.5 319.4ZM949.2 294.7L955.7 294.7L951.6 307.8L945.1 307.8ZM957.0 269.3L963.5 269.3L957.3 289.3L950.8 289.3ZM959.1 263.8L965.6 263.8L963.5 269.3L957.0 269.3ZM966.1 245.3L972.6 245.3L967.6 258.4L961.1 258.4ZM972.4 228.7L978.9 228.7L974.7 239.9L968.2 239.9ZM975.7 225.7L978.9 228.7L972.4 228.7ZM972.4 228.7L978.9 228.7L988.0 243.1L981.5 243.1ZM984.9 248.5L991.4 248.5L994.4 253.3L987.9 253.3ZM987.9 253.3L994.4 253.3L995.5 261.6L989.0 261.6ZM989.7 267.0L996.2 267.0L999.6 292.5L993.1 292.5ZM993.8 297.9L1000.3 297.9L1002.0 311.0L995.5 311.0ZM996.2 316.4L1002.7 316.4L1006.1 341.9L999.6 341.9ZM1000.3 347.3L1006.8 347.3L1008.5 360.4L1002.0 360.4ZM1002.7 365.8L1009.2 365.8L1009.8 370.6L1003.3 370.6ZM1003.3 370.6L1009.8 370.6L1006.6 373.6ZM1018.8 350.3L1025.3 350.3L1009.8 370.6L1003.3 370.6ZM1018.8 349.8L1025.3 349.8L1025.3 350.3L1018.8 350.3ZM1021.0 331.3L1027.5 331.3L1026.0 344.4L1019.5 344.4ZM1024.5 300.4L1031.0 300.4L1028.1 325.9L1021.6 325.9ZM1026.6 281.9L1033.1 281.9L1031.6 295.0L1025.1 295.0ZM1030.2 251.0L1036.7 251.0L1033.8 276.5L1027.3 276.5ZM1032.3 232.5L1038.8 232.5L1037.3 245.6L1030.8 245.6ZM1034.2 215.9L1040.7 215.9L1039.4 227.1L1032.9 227.1ZM1038.4 206.5L1044.9 206.5L1040.7 215.9L1034.2 215.9ZM1049.7 180.8L1056.2 180.8L1047.2 201.1L1040.7 201.1ZM1052.9 177.8L1056.2 180.8L1049.7 180.8ZM1049.7 180.8L1056.2 180.8L1056.8 185.9L1050.3 185.9ZM1051.0 191.2L1057.5 191.2L1059.2 204.4L1052.7 204.4ZM1053.4 209.8L1059.9 209.8L1063.2 235.3L1056.7 235.3ZM1057.4 240.6L1063.9 240.6L1065.5 253.8L1059.0 253.8ZM1059.7 259.2L1066.2 259.2L1069.5 284.7L1063.0 284.7ZM1063.7 290.0L1070.2 290.0L1071.6 301.2L1065.1 301.2ZM1065.1 301.2L1071.6 301.2L1071.8 303.2L1065.3 303.2ZM1065.9 308.6L1072.4 308.6L1075.3 334.1L1068.8 334.1ZM1069.4 339.4L1075.9 339.4L1077.4 352.6L1070.9 352.6ZM1071.5 358.0L1078.0 358.0L1080.9 383.5L1074.4 383.5ZM1075.0 388.8L1081.5 388.8L1082.9 402.0L1076.4 402.0ZM1077.0 407.4L1083.5 407.4L1086.4 432.9L1079.9 432.9ZM1080.5 438.2L1087.0 438.2L1087.1 438.8L1080.6 438.8ZM1083.8 435.5L1096.4 432.9L1096.4 439.4L1083.8 442.0ZM1099.2 407.6L1105.7 407.6L1102.8 433.1L1096.3 433.1ZM1101.2 389.0L1107.7 389.0L1106.3 402.2L1099.8 402.2ZM1104.7 358.2L1111.2 358.2L1108.4 383.7L1101.9 383.7ZM1106.8 339.6L1113.3 339.6L1111.8 352.8L1105.3 352.8ZM1110.3 308.8L1116.8 308.8L1113.9 334.3L1107.4 334.3ZM1111.5 298.0L1118.0 298.0L1117.4 303.4L1110.9 303.4ZM1112.6 290.2L1119.1 290.2L1118.0 298.0L1111.5 298.0ZM1117.0 259.4L1123.5 259.4L1119.9 284.9L1113.4 284.9ZM1119.7 240.8L1126.2 240.8L1124.3 254.0L1117.8 254.0ZM1124.1 210.0L1130.6 210.0L1126.9 235.5L1120.4 235.5ZM1126.8 191.4L1133.3 191.4L1131.4 204.6L1124.9 204.6ZM1128.0 194.6L1134.5 194.6L1141.0 220.1L1134.5 220.1ZM1135.9 225.5L1142.4 225.5L1145.7 238.7L1139.2 238.7ZM1140.6 244.0L1147.1 244.0L1148.9 251.1L1142.4 251.1ZM1142.4 251.1L1148.9 251.1L1149.8 269.5L1143.3 269.5ZM1143.5 274.9L1150.0 274.9L1150.6 288.1L1144.1 288.1ZM1144.4 293.4L1150.9 293.4L1152.1 318.9L1145.6 318.9ZM1145.9 324.3L1152.4 324.3L1153.0 337.5L1146.5 337.5ZM1146.8 342.8L1153.3 342.8L1154.5 368.3L1148.0 368.3ZM1148.3 373.7L1154.8 373.7L1155.4 386.9L1148.9 386.9ZM1149.2 392.2L1155.7 392.2L1156.9 417.7L1150.4 417.7ZM1150.7 423.1L1157.2 423.1L1157.8 436.3L1151.3 436.3ZM1151.6 441.6L1158.1 441.6L1159.3 467.1L1152.8 467.1ZM1153.1 472.5L1159.6 472.5L1160.2 485.7L1153.7 485.7ZM1153.9 491.0L1160.4 491.0L1161.7 516.5L1155.2 516.5ZM1155.4 521.9L1161.9 521.9L1162.6 535.1L1156.1 535.1ZM1156.3 540.4L1162.8 540.4L1164.1 565.9L1157.6 565.9ZM1161.4 567.9L1174.5 576.1L1174.5 582.6L1161.4 574.4ZM1175.5 551.7L1182.0 551.7L1180.0 577.2L1173.5 577.2ZM1176.9 533.2L1183.4 533.2L1182.4 546.4L1175.9 546.4ZM1179.3 502.3L1185.8 502.3L1183.8 527.8L1177.3 527.8ZM1180.8 483.8L1187.3 483.8L1186.2 497.0L1179.7 497.0ZM1183.2 452.9L1189.7 452.9L1187.7 478.4L1181.2 478.4ZM1184.6 434.4L1191.1 434.4L1190.1 447.6L1183.6 447.6ZM1187.0 403.5L1193.5 403.5L1191.5 429.0L1185.0 429.0ZM1188.4 385.0L1194.9 385.0L1193.9 398.2L1187.4 398.2ZM1191.7 354.1L1198.2 354.1L1195.4 379.6L1188.9 379.6ZM1193.8 335.6L1200.3 335.6L1198.9 348.8L1192.4 348.8ZM1197.3 304.7L1203.8 304.7L1200.9 330.2L1194.4 330.2ZM1199.4 286.2L1205.9 286.2L1204.4 299.4L1197.9 299.4ZM1202.8 255.3L1209.3 255.3L1206.5 280.8L1200.0 280.8ZM1204.2 243.7L1210.7 243.7L1209.9 250.0L1203.4 250.0ZM1207.4 240.4L1214.3 233.8L1214.3 240.3L1207.4 246.9ZM1219.6 228.6L1222.9 225.5L1222.9 232.0L1219.6 235.1ZM1219.6 228.7L1226.1 228.7L1227.7 251.0L1221.2 251.0ZM1221.6 256.4L1228.1 256.4L1229.1 269.5L1222.6 269.5ZM1222.9 274.9L1229.4 274.9L1231.3 300.4L1224.8 300.4ZM1225.2 305.8L1231.7 305.8L1232.6 318.9L1226.1 318.9ZM1226.5 324.3L1233.0 324.3L1234.9 349.8L1228.4 349.8ZM1228.8 355.2L1235.3 355.2L1236.2 368.3L1229.7 368.3ZM1230.1 373.7L1236.6 373.7L1238.5 399.2L1232.0 399.2ZM1232.3 404.6L1238.8 404.6L1239.8 417.7L1233.3 417.7ZM1233.7 423.1L1240.2 423.1L1241.6 442.0L1235.1 442.0ZM1235.1 442.0L1241.6 442.0L1242.2 448.6L1235.7 448.6ZM1236.2 454.0L1242.7 454.0L1243.9 467.1L1237.4 467.1ZM1237.9 472.5L1244.4 472.5L1246.8 498.0L1240.3 498.0ZM1240.8 503.4L1247.3 503.4L1248.5 516.5L1242.0 516.5ZM1242.5 521.9L1249.0 521.9L1251.3 547.4L1244.8 547.4ZM1245.3 552.8L1251.8 552.8L1253.1 565.9L1246.6 565.9ZM1247.1 571.3L1253.6 571.3L1255.9 596.8L1249.4 596.8ZM1249.9 602.2L1256.4 602.2L1257.0 608.3L1250.5 608.3ZM1250.5 608.3L1257.0 608.3L1253.7 611.3ZM1259.7 582.9L1266.2 582.9L1257.0 608.3L1250.5 608.3ZM1265.9 565.7L1272.4 565.7L1268.2 577.5L1261.7 577.5ZM1266.1 564.4L1272.6 564.4L1272.4 565.7L1265.9 565.7ZM1268.7 533.5L1275.2 533.5L1273.0 559.0L1266.5 559.0ZM1270.3 515.0L1276.8 515.0L1275.7 528.1L1269.2 528.1ZM1272.9 484.1L1279.4 484.1L1277.3 509.6L1270.8 509.6ZM1274.5 465.6L1281.0 465.6L1279.9 478.7L1273.4 478.7ZM1277.2 434.7L1283.7 434.7L1281.5 460.2L1275.0 460.2ZM1278.8 416.2L1285.3 416.2L1284.1 429.3L1277.6 429.3ZM1281.4 385.5L1287.9 385.5L1285.7 410.8L1279.2 410.8ZM1281.4 385.3L1287.9 385.3L1287.9 385.5L1281.4 385.5ZM1284.7 366.8L1291.2 366.8L1288.9 379.9L1282.4 379.9ZM1290.2 335.9L1296.7 335.9L1292.1 361.4L1285.6 361.4ZM1293.4 317.4L1299.9 317.4L1297.6 330.5L1291.1 330.5ZM1296.8 298.0L1303.3 298.0L1300.9 312.0L1294.4 312.0ZM1300.1 295.0L1303.3 298.0L1296.8 298.0ZM1296.8 298.0L1303.3 298.0L1310.0 309.6L1303.5 309.6ZM1306.6 315.0L1313.1 315.0L1318.8 324.7L1312.3 324.7ZM1312.3 324.7L1318.8 324.7L1319.2 328.1L1312.7 328.1ZM1313.2 333.5L1319.7 333.5L1322.4 359.0L1315.9 359.0ZM1316.5 364.4L1323.0 364.4L1324.4 377.5L1317.9 377.5ZM1318.4 382.9L1324.9 382.9L1327.6 408.4L1321.1 408.4ZM1321.7 413.8L1328.2 413.8L1329.6 426.9L1323.1 426.9ZM1323.7 432.3L1330.2 432.3L1332.9 457.8L1326.4 457.8ZM1326.9 463.2L1333.4 463.2L1334.2 470.8L1327.7 470.8ZM1327.7 470.8L1334.2 470.8L1334.6 476.3L1328.1 476.3ZM1328.5 481.7L1335.0 481.7L1336.9 507.2L1330.4 507.2ZM1330.8 512.6L1337.3 512.6L1338.2 525.7L1331.7 525.7ZM1332.1 531.1L1338.6 531.1L1340.4 556.6L1333.9 556.6ZM1334.3 562.0L1340.8 562.0L1341.8 575.1L1335.3 575.1ZM1335.7 580.5L1342.2 580.5L1344.0 606.0L1337.5 606.0ZM1337.9 611.4L1344.4 611.4L1345.4 624.5L1338.9 624.5ZM1339.2 629.9L1345.7 629.9L1347.6 655.4L1341.1 655.4ZM1341.5 660.8L1348.0 660.8L1348.9 673.9L1342.4 673.9ZM1342.8 679.3L1349.3 679.3L1349.7 684.5L1343.2 684.5ZM1343.2 684.5L1349.7 684.5L1346.4 687.5ZM1353.9 664.1L1360.4 664.1L1349.7 684.5L1343.2 684.5ZM1358.6 655.2L1365.1 655.2L1363.3 658.8L1356.8 658.8ZM1360.3 645.6L1366.8 645.6L1365.1 655.2L1358.6 655.2ZM1365.5 614.7L1372.0 614.7L1367.7 640.2L1361.2 640.2ZM1368.6 596.2L1375.1 596.2L1372.9 609.4L1366.4 609.4ZM1373.8 565.3L1380.3 565.3L1376.0 590.8L1369.5 590.8ZM1376.2 546.8L1382.7 546.8L1381.0 560.0L1374.5 560.0ZM1380.2 515.9L1386.7 515.9L1383.4 541.4L1376.9 541.4ZM1382.6 497.4L1389.1 497.4L1387.4 510.6L1380.9 510.6ZM1386.6 466.5L1393.1 466.5L1389.8 492.0L1383.3 492.0ZM1389.0 448.0L1395.5 448.0L1393.8 461.2L1387.3 461.2ZM1392.7 417.1L1399.2 417.1L1396.2 442.6L1389.7 442.6ZM1394.9 398.6L1401.4 398.6L1399.8 411.8L1393.3 411.8ZM1398.5 367.7L1405.0 367.7L1402.0 393.2L1395.5 393.2ZM1400.7 349.2L1407.2 349.2L1405.7 362.4L1399.2 362.4ZM1404.3 318.3L1410.8 318.3L1407.8 343.8L1401.3 343.8ZM1405.0 313.0L1411.5 313.0L1422.7 326.1L1416.2 326.1ZM1420.6 331.5L1427.1 331.5L1435.3 357.0L1428.8 357.0ZM1430.5 362.4L1437.0 362.4L1441.2 375.5L1434.7 375.5ZM1436.8 380.9L1443.3 380.9L1456.5 406.4L1450.0 406.4ZM1451.4 411.8L1457.9 411.8L1458.2 424.9L1451.7 424.9ZM1451.8 430.3L1458.3 430.3L1458.8 455.8L1452.3 455.8ZM1452.4 461.2L1458.9 461.2L1459.2 474.3L1452.7 474.3ZM1452.8 479.7L1459.3 479.7L1459.8 505.2L1453.3 505.2ZM1453.4 510.6L1459.9 510.6L1460.2 523.7L1453.7 523.7ZM1453.8 529.1L1460.3 529.1L1460.9 554.6L1454.4 554.6ZM1454.5 560.0L1461.0 560.0L1461.2 573.1L1454.7 573.1ZM1454.9 578.5L1461.4 578.5L1461.9 604.0L1455.4 604.0ZM1455.5 609.4L1462.0 609.4L1462.3 622.5L1455.8 622.5ZM1455.9 627.9L1462.4 627.9L1462.9 653.4L1456.4 653.4ZM1456.5 658.8L1463.0 658.8L1463.3 671.9L1456.8 671.9ZM1456.9 677.3L1463.4 677.3L1463.9 702.8L1457.4 702.8ZM1457.6 708.2L1464.1 708.2L1464.3 721.3L1457.8 721.3ZM1457.9 726.7L1464.4 726.7L1465.0 752.2L1458.5 752.2ZM1458.6 757.6L1465.1 757.6L1465.4 770.7L1458.9 770.7ZM1459.0 776.1L1465.5 776.1L1466.0 801.6L1459.5 801.6ZM1459.6 807.0L1466.1 807.0L1466.4 820.1L1459.9 820.1ZM1460.0 825.5L1466.5 825.5L1467.0 851.0L1460.5 851.0ZM1460.6 856.4L1467.1 856.4L1467.4 869.5L1460.9 869.5ZM1461.0 874.9L1467.5 874.9L1468.1 900.4L1461.6 900.4ZM1461.7 905.8L1468.2 905.8L1468.5 918.9L1462.0 918.9ZM1462.1 924.3L1468.6 924.3L1469.1 949.8L1462.6 949.8ZM1462.7 955.2L1469.2 955.2L1469.5 968.3L1463.0 968.3ZM1463.1 973.7L1469.6 973.7L1470.1 999.2L1463.6 999.2ZM1463.7 1004.6L1470.2 1004.6L1470.5 1017.7L1464.0 1017.7ZM1464.1 1023.1L1470.6 1023.1L1471.2 1048.6L1464.7 1048.6ZM1464.8 1054.0L1471.3 1054.0L1471.5 1067.1L1465.0 1067.1ZM1465.2 1072.5L1471.7 1072.5L1472.2 1098.0L1465.7 1098.0ZM1465.8 1103.4L1472.3 1103.4L1472.6 1116.5L1466.1 1116.5ZM1466.2 1121.9L1472.7 1121.9L1473.2 1147.4L1466.7 1147.4Z"/>
<path fill="#7e2f8e" d="M203.3 872.7L218.7 863.1L218.7 869.6L203.3 879.2ZM218.2 856.7L224.7 856.7L222.0 866.4L215.5 866.4ZM223.5 838.2L230.0 838.2L226.3 851.3L219.8 851.3ZM230.9 812.0L237.4 812.0L231.5 832.8L225.0 832.8ZM234.2 808.7L238.9 811.3L238.9 817.8L234.2 815.2ZM244.2 814.3L249.6 817.3L249.6 823.8L244.2 820.8ZM246.4 820.5L252.9 820.5L257.2 828.3L250.7 828.3ZM253.7 833.6L260.2 833.6L268.3 848.2L261.8 848.2ZM265.1 845.0L276.0 844.2L276.0 850.7L265.1 851.5ZM281.4 843.1L294.5 830.4L294.5 836.9L281.4 849.6ZM302.6 802.8L309.1 802.8L300.6 828.3L294.1 828.3ZM308.2 786.4L314.7 786.4L311.0 797.5L304.5 797.5ZM311.4 783.2L313.5 782.4L313.5 788.9L311.4 789.7ZM318.9 780.6L326.9 777.8L326.9 784.3L318.9 787.1ZM323.6 781.1L330.1 781.1L344.2 798.6L337.7 798.6ZM346.0 793.7L357.8 783.2L357.8 789.7L346.0 800.2ZM355.1 785.0L361.6 785.0L361.0 786.4L354.5 786.4ZM368.3 754.1L374.8 754.1L363.9 779.6L357.4 779.6ZM374.0 735.6L380.5 735.6L376.9 748.8L370.4 748.8ZM382.6 704.7L389.1 704.7L382.0 730.2L375.5 730.2ZM385.4 694.5L391.9 694.5L390.6 699.4L384.1 699.4ZM388.7 691.2L397.0 686.2L397.0 692.7L388.7 697.7ZM402.3 682.9L404.1 681.9L404.1 688.4L402.3 689.4ZM400.9 685.1L407.4 685.1L417.2 708.8L410.7 708.8ZM412.9 714.2L419.4 714.2L422.8 722.4L416.3 722.4ZM419.6 719.2L424.5 715.4L424.5 721.9L419.6 725.7ZM429.9 711.4L435.0 707.4L435.0 713.9L429.9 717.9ZM445.8 690.4L452.3 690.4L438.3 710.7L431.8 710.7ZM453.7 671.8L460.2 671.8L455.0 685.0L448.5 685.0ZM462.7 648.9L469.2 648.9L462.3 666.5L455.8 666.5ZM465.9 645.9L469.2 648.9L462.7 648.9ZM462.7 648.9L469.2 648.9L474.9 656.7L468.4 656.7ZM472.3 662.1L478.8 662.1L484.6 670.2L478.1 670.2ZM478.1 670.2L484.6 670.2L486.8 675.3L480.3 675.3ZM482.7 680.6L489.2 680.6L500.1 705.4L493.6 705.4ZM496.8 702.1L497.6 702.1L497.6 708.6L496.8 708.6ZM503.0 702.1L512.3 702.1L512.3 708.6L503.0 708.6ZM512.3 702.1L516.1 700.5L516.1 707.0L512.3 708.6ZM521.5 698.3L527.7 695.7L527.7 702.2L521.5 704.8ZM530.2 679.7L536.7 679.7L531.0 699.0L524.5 699.0ZM535.6 661.2L542.1 661.2L538.2 674.3L531.7 674.3ZM539.9 646.7L546.4 646.7L543.7 655.8L537.2 655.8ZM543.2 643.7L546.4 646.7L539.9 646.7ZM539.9 646.7L546.4 646.7L557.2 663.2L550.7 663.2ZM554.3 668.5L560.8 668.5L561.8 670.2L555.3 670.2ZM555.3 670.2L561.8 670.2L564.1 681.7L557.6 681.7ZM558.6 687.1L565.1 687.1L570.0 712.6L563.5 712.6ZM564.6 717.9L571.1 717.9L573.6 731.1L567.1 731.1ZM568.2 736.5L574.7 736.5L577.3 750.1L570.8 750.1ZM574.0 746.9L585.9 757.5L585.9 764.0L574.0 753.4ZM587.7 765.7L594.2 765.7L605.4 778.9L598.9 778.9ZM609.1 754.5L615.6 754.5L608.8 780.0L602.3 780.0ZM614.1 736.0L620.6 736.0L617.0 749.1L610.5 749.1ZM617.1 724.6L623.6 724.6L622.0 730.6L615.5 730.6ZM620.4 721.3L635.8 729.8L635.8 736.3L620.4 727.8ZM632.6 733.1L639.1 733.1L640.7 737.1L634.2 737.1ZM636.5 742.5L643.0 742.5L648.4 755.6L641.9 755.6ZM644.1 761.0L650.6 761.0L654.5 770.4L648.0 770.4ZM648.0 770.4L654.5 770.4L659.5 786.5L653.0 786.5ZM654.7 791.9L661.2 791.9L665.2 805.0L658.7 805.0ZM660.4 810.4L666.9 810.4L670.0 820.5L663.5 820.5ZM666.7 817.3L682.1 817.3L682.1 823.8L666.7 823.8ZM683.0 802.1L689.5 802.1L686.6 815.2L680.1 815.2ZM689.8 771.2L696.3 771.2L690.7 796.7L684.2 796.7ZM693.8 752.7L700.3 752.7L697.4 765.8L690.9 765.8ZM704.2 721.8L710.7 721.8L701.9 747.3L695.4 747.3ZM709.8 705.4L716.3 705.4L712.5 716.4L706.0 716.4ZM713.1 702.1L715.2 702.1L715.2 708.6L713.1 708.6ZM720.5 702.1L728.5 702.1L728.5 708.6L720.5 708.6ZM728.5 702.1L744.0 702.1L744.0 708.6L728.5 708.6ZM744.0 702.1L746.0 700.1L746.0 706.6L744.0 708.6ZM751.4 694.9L759.4 687.2L759.4 693.7L751.4 701.4ZM758.6 685.3L765.1 685.3L762.7 690.4L756.2 690.4ZM771.6 657.4L778.1 657.4L767.6 679.9L761.1 679.9ZM772.1 654.4L778.6 654.4L778.1 657.4L771.6 657.4ZM775.4 635.9L781.9 635.9L779.6 649.0L773.1 649.0ZM780.9 605.0L787.4 605.0L782.9 630.5L776.4 630.5ZM784.1 586.5L790.6 586.5L788.3 599.6L781.8 599.6ZM787.1 569.9L793.6 569.9L791.6 581.1L785.1 581.1ZM793.2 555.6L799.7 555.6L793.6 569.9L787.1 569.9ZM801.1 537.1L807.6 537.1L802.0 550.2L795.5 550.2ZM816.7 506.2L823.2 506.2L810.0 531.7L803.5 531.7ZM824.2 498.9L836.7 492.1L836.7 498.6L824.2 505.4ZM836.7 492.1L837.4 492.1L837.4 498.6L836.7 498.6ZM842.7 492.1L852.1 492.1L852.1 498.6L842.7 498.6ZM859.0 479.2L865.5 479.2L855.4 495.3L848.9 495.3ZM864.3 470.8L870.8 470.8L868.9 473.8L862.4 473.8ZM869.5 460.6L876.0 460.6L870.8 470.8L864.3 470.8ZM879.8 440.9L886.3 440.9L878.8 455.3L872.3 455.3ZM886.5 429.8L893.0 429.8L886.3 440.9L879.8 440.9ZM895.2 415.3L901.7 415.3L896.2 424.4L889.7 424.4ZM898.9 411.2L905.4 411.2L901.7 415.3L895.2 415.3ZM910.6 398.3L917.1 398.3L910.3 405.9L903.8 405.9ZM913.9 395.0L929.3 385.4L929.3 391.9L913.9 401.5ZM929.3 385.4L931.8 384.6L931.8 391.1L929.3 391.9ZM937.2 382.7L944.8 380.1L944.8 386.6L937.2 389.2ZM944.8 380.1L950.3 385.4L950.3 391.9L944.8 386.6ZM955.7 390.6L960.2 395.0L960.2 401.5L955.7 397.1ZM957.0 398.3L963.5 398.3L978.9 415.3L972.4 415.3ZM975.7 412.1L979.6 412.1L979.6 418.6L975.7 418.6ZM985.0 412.1L991.1 412.1L991.1 418.6L985.0 418.6ZM991.1 412.1L998.1 407.8L998.1 414.3L991.1 418.6ZM1003.5 404.4L1006.6 402.5L1006.6 409.0L1003.5 410.9ZM1006.6 402.5L1022.0 387.6L1022.0 394.1L1006.6 409.0ZM1018.8 390.8L1025.3 390.8L1027.7 397.8L1021.2 397.8ZM1023.0 403.1L1029.5 403.1L1034.1 416.3L1027.6 416.3ZM1029.4 421.7L1035.9 421.7L1040.7 435.6L1034.2 435.6ZM1034.2 435.6L1040.7 435.6L1043.7 447.2L1037.2 447.2ZM1038.6 452.5L1045.1 452.5L1048.5 465.7L1042.0 465.7ZM1043.4 471.1L1049.9 471.1L1056.2 495.3L1049.7 495.3ZM1049.7 495.3L1056.2 495.3L1056.5 496.6L1050.0 496.6ZM1051.6 501.9L1058.1 501.9L1061.9 515.1L1055.4 515.1ZM1057.0 520.5L1063.5 520.5L1070.9 546.0L1064.4 546.0ZM1076.1 532.7L1082.6 532.7L1073.5 545.9L1067.0 545.9ZM1080.6 526.2L1087.1 526.2L1086.3 527.4L1079.8 527.4ZM1084.7 501.9L1091.2 501.9L1087.1 526.2L1080.6 526.2ZM1087.9 483.3L1094.4 483.3L1092.1 496.5L1085.6 496.5ZM1093.1 452.5L1099.6 452.5L1095.3 478.0L1088.8 478.0ZM1096.0 435.6L1102.5 435.6L1100.6 447.1L1094.1 447.1ZM1099.3 432.3L1100.9 431.6L1100.9 438.1L1099.3 438.8ZM1106.3 429.0L1114.7 424.9L1114.7 431.4L1106.3 435.5ZM1111.5 428.1L1118.0 428.1L1121.6 445.2L1115.1 445.2ZM1116.3 450.6L1122.8 450.6L1125.6 463.7L1119.1 463.7ZM1120.2 469.1L1126.7 469.1L1132.1 494.6L1125.6 494.6ZM1126.8 500.0L1133.3 500.0L1133.4 500.6L1126.9 500.6ZM1126.9 500.6L1133.4 500.6L1136.6 513.1L1130.1 513.1ZM1131.5 518.5L1138.0 518.5L1144.6 544.0L1138.1 544.0ZM1139.5 549.4L1146.0 549.4L1148.9 560.4L1142.4 560.4ZM1145.6 557.1L1147.8 556.0L1147.8 562.5L1145.6 563.6ZM1153.2 553.4L1161.1 549.6L1161.1 556.1L1153.2 559.9ZM1166.3 535.3L1172.8 535.3L1164.3 552.9L1157.8 552.9ZM1173.3 520.9L1179.8 520.9L1175.4 529.9L1168.9 529.9ZM1174.3 516.8L1180.8 516.8L1179.8 520.9L1173.3 520.9ZM1181.7 485.9L1188.2 485.9L1182.1 511.4L1175.6 511.4ZM1186.2 467.4L1192.7 467.4L1189.5 480.5L1183.0 480.5ZM1188.7 456.9L1195.2 456.9L1194.0 462.0L1187.5 462.0ZM1192.0 453.9L1195.2 456.9L1188.7 456.9ZM1188.7 456.9L1195.2 456.9L1201.0 477.4L1194.5 477.4ZM1196.0 482.7L1202.5 482.7L1206.3 495.9L1199.8 495.9ZM1201.3 501.3L1207.8 501.3L1210.7 511.3L1204.2 511.3ZM1204.2 511.3L1210.7 511.3L1218.4 526.8L1211.9 526.8ZM1214.6 532.1L1221.1 532.1L1226.1 542.2L1219.6 542.2ZM1222.9 539.0L1225.9 537.7L1225.9 544.2L1222.9 545.5ZM1231.3 535.5L1238.3 532.6L1238.3 539.1L1231.3 542.0ZM1238.3 532.6L1253.7 527.2L1253.7 533.7L1238.3 539.1ZM1253.7 527.2L1256.8 524.5L1256.8 531.0L1253.7 533.7ZM1262.2 519.7L1269.2 513.4L1269.2 519.9L1262.2 526.2ZM1269.2 513.4L1275.3 515.9L1275.3 522.4L1269.2 519.9ZM1280.7 518.1L1284.6 519.8L1284.6 526.3L1280.7 524.6ZM1284.6 519.8L1300.1 519.8L1300.1 526.3L1284.6 526.3ZM1300.1 519.8L1306.2 516.8L1306.2 523.3L1300.1 526.3ZM1311.6 514.2L1315.5 512.3L1315.5 518.8L1311.6 520.7ZM1315.5 512.3L1324.7 506.6L1324.7 513.1L1315.5 518.8ZM1330.1 503.3L1331.0 502.7L1331.0 509.2L1330.1 509.8ZM1335.3 481.4L1341.8 481.4L1334.2 506.0L1327.7 506.0ZM1341.0 462.8L1347.5 462.8L1343.5 476.0L1337.0 476.0ZM1343.2 455.9L1349.7 455.9L1349.2 457.5L1342.7 457.5ZM1346.4 452.9L1349.7 455.9L1343.2 455.9ZM1343.2 455.9L1349.7 455.9L1355.2 479.7L1348.7 479.7ZM1349.9 485.1L1356.4 485.1L1359.4 498.3L1352.9 498.3ZM1354.2 503.6L1360.7 503.6L1365.1 523.0L1358.6 523.0ZM1361.9 519.8L1368.0 516.8L1368.0 523.3L1361.9 526.3ZM1373.4 514.2L1377.3 512.3L1377.3 518.8L1373.4 520.7ZM1377.3 512.3L1386.5 511.0L1386.5 517.5L1377.3 518.8ZM1391.9 510.3L1392.8 510.2L1392.8 516.7L1391.9 516.8ZM1395.2 488.8L1401.7 488.8L1396.0 513.4L1389.5 513.4ZM1399.5 470.3L1406.0 470.3L1402.9 483.4L1396.4 483.4ZM1405.0 446.3L1411.5 446.3L1407.2 464.9L1400.7 464.9ZM1407.3 439.4L1413.8 439.4L1411.5 446.3L1405.0 446.3ZM1413.7 420.9L1420.2 420.9L1415.7 434.0L1409.2 434.0ZM1420.4 401.5L1426.9 401.5L1422.1 415.5L1415.6 415.5ZM1423.7 398.5L1426.9 401.5L1420.4 401.5ZM1420.4 401.5L1426.9 401.5L1429.2 412.9L1422.7 412.9ZM1423.8 418.3L1430.3 418.3L1433.0 431.5L1426.5 431.5ZM1427.5 436.8L1434.0 436.8L1439.2 462.3L1432.7 462.3ZM1433.8 467.7L1440.3 467.7L1442.4 478.2L1435.9 478.2ZM1435.9 478.2L1442.4 478.2L1443.0 480.9L1436.5 480.9ZM1437.8 486.2L1444.3 486.2L1450.3 511.7L1443.8 511.7ZM1445.1 517.1L1451.6 517.1L1454.7 530.3L1448.2 530.3ZM1449.5 535.6L1456.0 535.6L1457.8 543.3L1451.3 543.3ZM1454.6 540.0L1470.0 540.0L1470.0 546.5L1454.6 546.5ZM1467.5 540.9L1474.0 540.9L1473.3 543.3L1466.8 543.3ZM1473.0 522.4L1479.5 522.4L1475.6 535.5L1469.1 535.5ZM1482.1 491.5L1488.6 491.5L1481.0 517.0L1474.5 517.0ZM1484.5 473.0L1491.0 473.0L1489.3 486.1L1482.8 486.1ZM1488.3 442.1L1494.8 442.1L1491.6 467.6L1485.1 467.6ZM1490.6 423.6L1497.1 423.6L1495.5 436.7L1489.0 436.7ZM1494.5 392.7L1501.0 392.7L1497.8 418.2L1491.3 418.2ZM1496.8 374.2L1503.3 374.2L1501.7 387.3L1495.2 387.3ZM1497.7 367.4L1504.2 367.4L1504.0 368.8L1497.5 368.8ZM1503.4 350.2L1509.9 350.2L1505.5 363.4L1499.0 363.4ZM1513.1 321.5L1519.6 321.5L1511.7 344.9L1505.2 344.9ZM1516.4 318.5L1519.6 321.5L1513.1 321.5ZM1513.1 321.5L1519.6 321.5L1520.2 323.7L1513.7 323.7ZM1515.1 329.0L1521.6 329.0L1525.2 342.2L1518.7 342.2ZM1520.1 347.6L1526.6 347.6L1533.4 373.1L1526.9 373.1ZM1528.4 378.4L1534.9 378.4L1535.1 379.1L1528.6 379.1ZM1528.6 379.1L1535.1 379.1L1536.5 391.6L1530.0 391.6ZM1530.6 397.0L1537.1 397.0L1540.1 422.5L1533.6 422.5ZM1534.3 427.8L1540.8 427.8L1542.3 441.0L1535.8 441.0ZM1536.4 446.4L1542.9 446.4L1545.9 471.9L1539.4 471.9ZM1540.0 477.2L1546.5 477.2L1548.1 490.4L1541.6 490.4ZM1542.2 495.8L1548.7 495.8L1550.5 511.3L1544.0 511.3ZM1544.0 511.3L1550.5 511.3L1551.4 521.3L1544.9 521.3ZM1545.4 526.6L1551.9 526.6L1553.0 539.8L1546.5 539.8ZM1547.0 545.2L1553.5 545.2L1555.7 570.7L1549.2 570.7ZM1549.7 576.0L1556.2 576.0L1557.3 589.2L1550.8 589.2ZM1551.3 594.6L1557.8 594.6L1560.1 620.1L1553.6 620.1ZM1554.0 625.4L1560.5 625.4L1561.7 638.6L1555.2 638.6ZM1555.7 644.0L1562.2 644.0L1564.4 669.5L1557.9 669.5ZM1558.4 674.8L1564.9 674.8L1566.0 687.2L1559.5 687.2ZM1559.5 687.2L1566.0 687.2L1562.7 690.2ZM1560.0 686.5L1566.5 686.5L1566.0 687.2L1559.5 687.2ZM1574.9 665.9L1581.4 665.9L1570.4 681.1L1563.9 681.1ZM1576.2 655.6L1582.7 655.6L1581.4 665.9L1574.9 665.9ZM1578.5 637.1L1585.0 637.1L1583.4 650.2L1576.9 650.2ZM1582.4 606.2L1588.9 606.2L1585.7 631.7L1579.2 631.7ZM1584.7 587.7L1591.2 587.7L1589.5 600.8L1583.0 600.8ZM1588.5 556.8L1595.0 556.8L1591.8 582.3L1585.3 582.3ZM1590.3 542.2L1596.8 542.2L1595.7 551.4L1589.2 551.4Z"/>
</g>
<g stroke="#383838" stroke-width="2.4" fill="none">
<rect x="203.3" y="62.4" width="1390.3" height="1087.6"/>
<path d="M357.8 1150.0v-14.5 M357.8 62.4v14.5 M512.3 1150.0v-14.5 M512.3 62.4v14.5 M666.7 1150.0v-14.5 M666.7 62.4v14.5 M821.2 1150.0v-14.5 M821.2 62.4v14.5 M975.7 1150.0v-14.5 M975.7 62.4v14.5 M1130.2 1150.0v-14.5 M1130.2 62.4v14.5 M1284.6 1150.0v-14.5 M1284.6 62.4v14.5 M1439.1 1150.0v-14.5 M1439.1 62.4v14.5 M203.3 1043.4h14.5 M1593.6 1043.4h-14.5 M203.3 936.7h14.5 M1593.6 936.7h-14.5 M203.3 830.1h14.5 M1593.6 830.1h-14.5 M203.3 723.5h14.5 M1593.6 723.5h-14.5 M203.3 616.9h14.5 M1593.6 616.9h-14.5 M203.3 510.2h14.5 M1593.6 510.2h-14.5 M203.3 403.6h14.5 M1593.6 403.6h-14.5 M203.3 297.0h14.5 M1593.6 297.0h-14.5 M203.3 190.4h14.5 M1593.6 190.4h-14.5 M203.3 83.7h14.5 M1593.6 83.7h-14.5"/>
</g>
<g font-family="'Liberation Sans', Arial, Helvetica, sans-serif" font-weight="bold" fill="#1e1e1e">
<g font-size="49.2" text-anchor="end" letter-spacing="0.6">
<text transform="translate(183.9,1170.9) scale(1,1.075)">0</text>
<text transform="translate(183.9,1064.3) scale(1,1.075)">50</text>
<text transform="translate(183.9,957.6) scale(1,1.075)">100</text>
<text transform="translate(183.9,851.0) scale(1,1.075)">150</text>
<text transform="translate(183.9,744.4) scale(1,1.075)">200</text>
<text transform="translate(183.9,637.8) scale(1,1.075)">250</text>
<text transform="translate(183.9,531.1) scale(1,1.075)">300</text>
<text transform="translate(183.9,424.5) scale(1,1.075)">350</text>
<text transform="translate(183.9,317.9) scale(1,1.075)">400</text>
<text transform="translate(183.9,211.3) scale(1,1.075)">450</text>
<text transform="translate(183.9,104.6) scale(1,1.075)">500</text>
</g>
<g font-size="49.2" text-anchor="middle" letter-spacing="0.6">
<text transform="translate(203.3,1221.1) scale(1,1.075)">1</text>
<text transform="translate(357.8,1221.1) scale(1,1.075)">2</text>
<text transform="translate(512.3,1221.1) scale(1,1.075)">3</text>
<text transform="translate(666.7,1221.1) scale(1,1.075)">4</text>
<text transform="translate(821.2,1221.1) scale(1,1.075)">5</text>
<text transform="translate(975.7,1221.1) scale(1,1.075)">6</text>
<text transform="translate(1130.2,1221.1) scale(1,1.075)">7</text>
<text transform="translate(1284.6,1221.1) scale(1,1.075)">8</text>
<text transform="translate(1439.1,1221.1) scale(1,1.075)">9</text>
<text transform="translate(1593.6,1221.1) scale(1,1.075)">10</text>
</g>
<text transform="translate(896.6,1291.8) scale(1.04,1)" font-size="55" text-anchor="middle">z [mm]</text>
<text transform="translate(72.6,606.8) rotate(-90) scale(1.022,1)" font-size="55" text-anchor="middle">max Pressure [kPa]</text>
</g>
<rect x="238" y="94.4" width="310.2" height="260.8" fill="#fff" stroke="#383838" stroke-width="2.2"/>
<path fill="#0072bd" d="M251.0 127.6L276.1 127.6L276.1 134.6L251.0 134.6ZM281.5 127.6L294.6 127.6L294.6 134.6L281.5 134.6ZM300.0 127.6L325.5 127.6L325.5 134.6L300.0 134.6ZM330.9 127.6L344.0 127.6L344.0 134.6L330.9 134.6ZM349.4 127.6L373.8 127.6L373.8 134.6L349.4 134.6Z"/>
<path fill="#d95319" d="M251.0 190.3L276.1 190.3L276.1 197.3L251.0 197.3ZM281.5 190.3L294.6 190.3L294.6 197.3L281.5 197.3ZM300.0 190.3L325.5 190.3L325.5 197.3L300.0 197.3ZM330.9 190.3L344.0 190.3L344.0 197.3L330.9 197.3ZM349.4 190.3L373.8 190.3L373.8 197.3L349.4 197.3Z"/>
<path fill="#edb120" d="M251.0 252.8L276.1 252.8L276.1 259.8L251.0 259.8ZM281.5 252.8L294.6 252.8L294.6 259.8L281.5 259.8ZM300.0 252.8L325.5 252.8L325.5 259.8L300.0 259.8ZM330.9 252.8L344.0 252.8L344.0 259.8L330.9 259.8ZM349.4 252.8L373.8 252.8L373.8 259.8L349.4 259.8Z"/>
<path fill="#7e2f8e" d="M251.0 314.6L276.1 314.6L276.1 321.6L251.0 321.6ZM281.5 314.6L294.6 314.6L294.6 321.6L281.5 321.6ZM300.0 314.6L325.5 314.6L325.5 321.6L300.0 321.6ZM330.9 314.6L344.0 314.6L344.0 321.6L330.9 321.6ZM349.4 314.6L373.8 314.6L373.8 321.6L349.4 321.6Z"/>
<g font-family="'Liberation Sans', Arial, Helvetica, sans-serif" font-weight="bold" font-size="46.1" fill="#000">
<text transform="translate(389.5,149.6) scale(1,1.04)">200 µL</text>
<text transform="translate(389.5,212.3) scale(1,1.04)">250 µL</text>
<text transform="translate(389.5,274.3) scale(1,1.04)">300 µL</text>
<text transform="translate(389.5,336.6) scale(1,1.04)">350 µL</text>
</g>
</g>
</svg>
</body>
</html>
